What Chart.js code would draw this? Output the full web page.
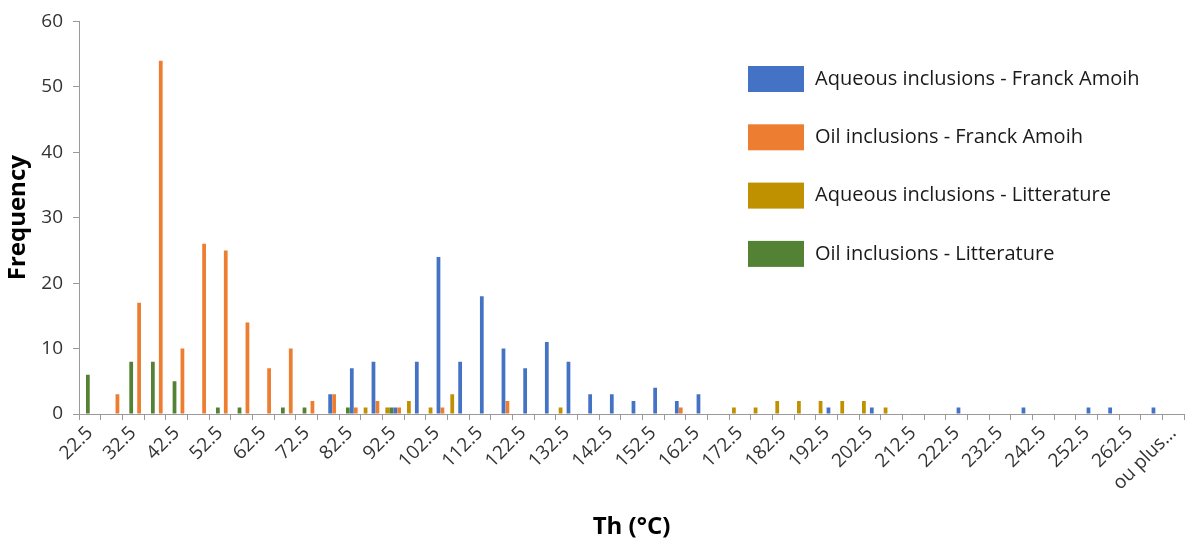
<!DOCTYPE html>
<html><head><meta charset="utf-8">
<script src="https://cdn.jsdelivr.net/npm/chart.js@4.4.1/dist/chart.umd.min.js"></script>
<style>html,body{margin:0;padding:0;background:#fff;}#wrap{width:1187px;height:544px;}</style>
</head><body><div id="wrap"><canvas id="c" width="1187" height="544"></canvas></div>
<script>
const categories = ['22.5','27.5','32.5','37.5','42.5','47.5','52.5','57.5','62.5','67.5','72.5','77.5','82.5','87.5','92.5','97.5','102.5','107.5','112.5','117.5','122.5','127.5','132.5','137.5','142.5','147.5','152.5','157.5','162.5','167.5','172.5','177.5','182.5','187.5','192.5','197.5','202.5','207.5','212.5','217.5','222.5','227.5','232.5','237.5','242.5','247.5','252.5','257.5','262.5','267.5','ou plus...'];
const aqueousFranck = [0,0,0,0,0,0,0,0,0,0, 0,3,7,8,1,8,24,8,18,10, 7,11,8,3,3,2,4,2,3,0, 0,0,0,0,1,0,1,0,0,0, 1,0,0,1,0,0,1,1,0,1, 0];
const oilFranck     = [0,3,17,54,10,26,25,14,7,10, 2,3,1,2,1,0,1,0,0,2, 0,0,0,0,0,0,0,1,0,0, 0,0,0,0,0,0,0,0,0,0, 0,0,0,0,0,0,0,0,0,0, 0];
const aqueousLitt   = [0,0,0,0,0,0,0,0,0,0, 0,0,0,1,1,2,1,3,0,0, 0,0,1,0,0,0,0,0,0,0, 1,1,2,2,2,2,2,1,0,0, 0,0,0,0,0,0,0,0,0,0, 0];
const oilLitt       = [6,0,8,8,5,0,1,1,0,1, 1,0,1,0,1,0,0,0,0,0, 0,0,0,0,0,0,0,0,0,0, 0,0,0,0,0,0,0,0,0,0, 0,0,0,0,0,0,0,0,0,0, 0];
const yTicks = [0,10,20,30,40,50,60];
const seriesNames = ['Aqueous inclusions - Franck Amoih','Oil inclusions - Franck Amoih','Aqueous inclusions - Litterature','Oil inclusions - Litterature'];

const FONT = '"Open Sans", "Noto Sans", sans-serif';
const COLORS = {aqF:'#4472C4', oilF:'#ED7D31', aqL:'#BF9000', oilL:'#548235'};

// drawing order within each group: yellow, green, blue, orange
const datasets = [
  {label: seriesNames[2], data: aqueousLitt, backgroundColor: COLORS.aqL},
  {label: seriesNames[3], data: oilLitt, backgroundColor: COLORS.oilL},
  {label: seriesNames[0], data: aqueousFranck, backgroundColor: COLORS.aqF},
  {label: seriesNames[1], data: oilFranck, backgroundColor: COLORS.oilF}
].map(d => Object.assign(d, {borderWidth: 0, categoryPercentage: 0.73, barPercentage: 0.95}));
const legendOrder = [2, 3, 0, 1];

const insideLegend = {
  id: 'insideLegend',
  afterDraw(chart) {
    const ctx = chart.ctx;
    ctx.save();
    ctx.font = '20px ' + FONT;
    ctx.textBaseline = 'middle';
    ctx.textAlign = 'left';
    legendOrder.forEach((di, i) => {
      const ds = chart.data.datasets[di];
      const top = 66 + i * 58.3;
      ctx.fillStyle = ds.backgroundColor;
      ctx.fillRect(748, top, 56, 26);
      ctx.fillStyle = '#1a1a1a';
      ctx.fillText(ds.label, 815, top + 13);
    });
    ctx.restore();
  }
};

new Chart(document.getElementById('c'), {
  type: 'bar',
  data: {labels: categories, datasets},
  options: {
    responsive: false,
    animation: false,
    devicePixelRatio: 1,
    layout: {padding: {top: 21, right: 3, left: 0, bottom: 0}},
    plugins: {legend: {display: false}, tooltip: {enabled: false}},
    scales: {
      x: {
        ticks: {autoSkip: false, maxRotation: 45, minRotation: 45, padding: 2,
          font: {size: 19, family: FONT}, color: '#333',
          callback: (v, i) => (i % 2 === 0 ? categories[i] : '')},
        grid: {offset: true, drawOnChartArea: false, tickLength: 6, color: '#9a9a9a'},
        border: {color: '#9a9a9a', width: 1},
        title: {display: true, text: 'Th (°C)', color: '#000', font: {size: 24, weight: 'bold', family: FONT}, padding: {top: 4, bottom: 2}},
        afterFit: s => { s.height = 130; s.paddingRight = 0; }
      },
      y: {
        min: 0, max: 60,
        afterBuildTicks: s => { s.ticks = yTicks.map(v => ({value: v})); },
        ticks: {font: {size: 19, family: FONT}, color: '#333', padding: 10},
        grid: {drawOnChartArea: false, tickLength: 6, color: '#9a9a9a'},
        border: {color: '#9a9a9a', width: 1},
        title: {display: true, text: 'Frequency', color: '#000', font: {size: 24, weight: 'bold', family: FONT}, padding: 4},
        afterFit: s => { s.width = 79; }
      }
    }
  },
  plugins: [insideLegend]
});
</script>
</body></html>
